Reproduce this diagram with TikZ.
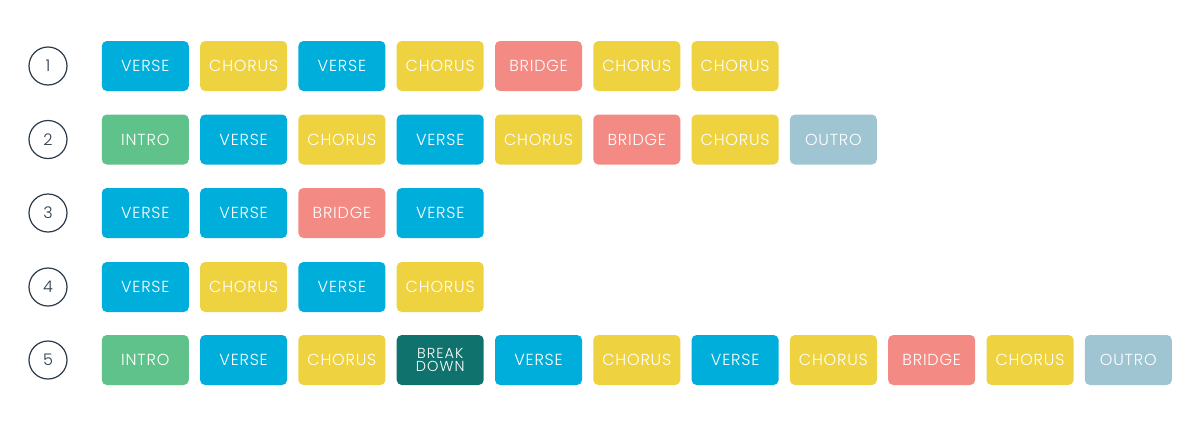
\documentclass[tikz,border=0pt]{standalone}
\usepackage{fontspec}
\IfFontExistsTF{Poppins Light}{\setmainfont{Poppins Light}}{\setmainfont{Poppins}}
\definecolor{cverse}{HTML}{00AEDB}
\definecolor{cchorus}{HTML}{EED23F}
\definecolor{cbridge}{HTML}{F48A84}
\definecolor{cintro}{HTML}{5FC28A}
\definecolor{cbreak}{HTML}{0F726C}
\definecolor{coutro}{HTML}{9EC5D1}
\definecolor{cnum}{HTML}{2B3A4A}
\tikzset{
  part/.style={rounded corners=5pt, minimum width=87pt, minimum height=50pt, inner sep=0pt,
    text=white, font=\fontsize{16}{16}\selectfont\addfontfeatures{LetterSpace=5}, align=center},
  verse/.style={part, fill=cverse},
  chorus/.style={part, fill=cchorus},
  bridge/.style={part, fill=cbridge},
  intro/.style={part, fill=cintro},
  brk/.style={part, fill=cbreak, font=\fontsize{14.5}{13.5}\selectfont\addfontfeatures{LetterSpace=7}},
  outro/.style={part, fill=coutro},
  num/.style={circle, draw=cnum, line width=1.2pt, minimum size=38pt, inner sep=0pt,
    text=cnum, font=\fontsize{16}{16}\selectfont},
}
\begin{document}
\begin{tikzpicture}[x=1pt,y=-1pt]
\useasboundingbox (0,0) rectangle (1200,426);
\fill[white] (0,0) rectangle (1200,426);
% row 1
\node[num] (n1) at (48,66) {1};
\foreach \t/\l [count=\i from 0] in {verse/VERSE,chorus/CHORUS,verse/VERSE,chorus/CHORUS,bridge/BRIDGE,chorus/CHORUS,chorus/CHORUS}{
  \node[\t] (r1-\i) at ({145.3+98.3*\i},66) {\l};
}
% row 2
\node[num] (n2) at (48,139.5) {2};
\foreach \t/\l [count=\i from 0] in {intro/INTRO,verse/VERSE,chorus/CHORUS,verse/VERSE,chorus/CHORUS,bridge/BRIDGE,chorus/CHORUS,outro/OUTRO}{
  \node[\t] (r2-\i) at ({145.3+98.3*\i},139.5) {\l};
}
% row 3
\node[num] (n3) at (48,213) {3};
\foreach \t/\l [count=\i from 0] in {verse/VERSE,verse/VERSE,bridge/BRIDGE,verse/VERSE}{
  \node[\t] (r3-\i) at ({145.3+98.3*\i},213) {\l};
}
% row 4
\node[num] (n4) at (48,287) {4};
\foreach \t/\l [count=\i from 0] in {verse/VERSE,chorus/CHORUS,verse/VERSE,chorus/CHORUS}{
  \node[\t] (r4-\i) at ({145.3+98.3*\i},287) {\l};
}
% row 5
\node[num] (n5) at (48,360) {5};
\foreach \t/\l [count=\i from 0] in {intro/INTRO,verse/VERSE,chorus/CHORUS,brk/{BREAK\\DOWN},verse/VERSE,chorus/CHORUS,verse/VERSE,chorus/CHORUS,bridge/BRIDGE,chorus/CHORUS,outro/OUTRO}{
  \node[\t] (r5-\i) at ({145.3+98.3*\i},360) {\l};
}
\end{tikzpicture}
\end{document}
